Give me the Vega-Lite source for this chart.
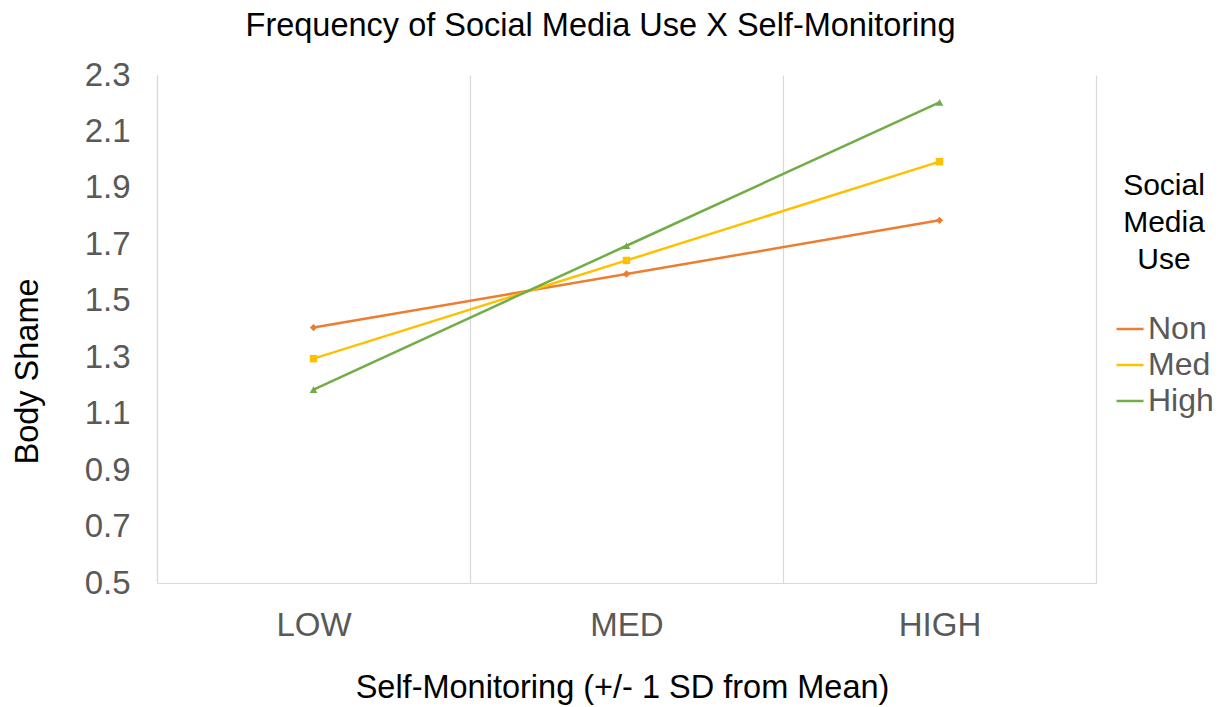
{
  "$schema": "https://vega.github.io/schema/vega-lite/v6.json",
  "width": 939,
  "height": 508,
  "autosize": {"type": "none"},
  "padding": {"left": 157, "top": 75, "right": 134, "bottom": 124},
  "background": "white",
  "title": {
    "text": "Frequency of Social Media Use X Self-Monitoring",
    "font": "Liberation Sans",
    "fontSize": 32.5,
    "fontWeight": "normal",
    "color": "#000000",
    "anchor": "middle",
    "dx": -26,
    "offset": 17
  },
  "data": {
    "values": [
      {"sm": "LOW", "use": "Non", "shame": 1.405},
      {"sm": "MED", "use": "Non", "shame": 1.595},
      {"sm": "HIGH", "use": "Non", "shame": 1.785},
      {"sm": "LOW", "use": "Med", "shame": 1.295},
      {"sm": "MED", "use": "Med", "shame": 1.643},
      {"sm": "HIGH", "use": "Med", "shame": 1.993},
      {"sm": "LOW", "use": "High", "shame": 1.185},
      {"sm": "MED", "use": "High", "shame": 1.695},
      {"sm": "HIGH", "use": "High", "shame": 2.203}
    ]
  },
  "encoding": {
    "x": {
      "field": "sm",
      "type": "nominal",
      "sort": ["LOW", "MED", "HIGH"],
      "scale": {"type": "band", "paddingInner": 0, "paddingOuter": 0},
      "axis": {
        "title": "Self-Monitoring (+/- 1 SD from Mean)",
        "labelAngle": 0,
        "tickBand": "extent",
        "grid": true,
        "gridColor": "#D9D9D9",
        "gridWidth": 1.2,
        "ticks": false,
        "domain": true,
        "domainColor": "#D9D9D9",
        "domainWidth": 1.2,
        "labelFont": "Liberation Sans",
        "labelFontSize": 33,
        "labelColor": "#595959",
        "labelPadding": 26,
        "titleFont": "Liberation Sans",
        "titleFontSize": 32.5,
        "titleFontWeight": "normal",
        "titleColor": "#000000",
        "titleY": 104,
        "titleBaseline": "middle",
        "titleX": 465
      }
    },
    "y": {
      "field": "shame",
      "type": "quantitative",
      "scale": {"domain": [0.5, 2.3], "nice": false, "zero": false},
      "axis": {
        "title": "Body Shame",
        "values": [0.5, 0.7, 0.9, 1.1, 1.3, 1.5, 1.7, 1.9, 2.1, 2.3],
        "format": ".1f",
        "grid": false,
        "ticks": false,
        "domain": true,
        "domainColor": "#D9D9D9",
        "domainWidth": 1.2,
        "labelFont": "Liberation Sans",
        "labelFontSize": 33,
        "labelColor": "#595959",
        "labelPadding": 27,
        "titleFont": "Liberation Sans",
        "titleFontSize": 32.5,
        "titleFontWeight": "normal",
        "titleColor": "#000000",
        "titleX": -130,
        "titleY": 296,
        "titleBaseline": "middle"
      }
    },
    "color": {
      "field": "use",
      "type": "nominal",
      "sort": ["Non", "Med", "High"],
      "scale": {"domain": ["Non", "Med", "High"], "range": ["#ED7D31", "#FFC000", "#70AD47"]},
      "legend": null
    }
  },
  "layer": [
    {
      "mark": {"type": "line", "strokeWidth": 2.5},
      "encoding": {
        "color": {
          "field": "use",
          "type": "nominal",
          "sort": ["Non", "Med", "High"],
          "scale": {"domain": ["Non", "Med", "High"], "range": ["#ED7D31", "#FFC000", "#70AD47"]},
          "legend": {
            "title": ["Social", "Media", "Use"],
            "orient": "none",
            "legendX": 957,
            "legendY": 96,
            "titleFont": "Liberation Sans",
            "titleFontSize": 30,
            "titleFontWeight": "normal",
            "titleColor": "#000000",
            "titleAlign": "center",
            "titleAnchor": "middle",
            "titleLineHeight": 37,
            "titlePadding": 38,
            "labelFont": "Liberation Sans",
            "labelFontSize": 32,
            "labelColor": "#595959",
            "labelOffset": 2,
            "symbolType": "stroke",
            "symbolStrokeWidth": 2.5,
            "symbolSize": 729,
            "rowPadding": 4
          }
        }
      }
    },
    {
      "transform": [{"filter": "datum.use === 'Non'"}],
      "mark": {"type": "point", "filled": true, "size": 55, "opacity": 1, "shape": "diamond"}
    },
    {
      "transform": [{"filter": "datum.use === 'Med'"}],
      "mark": {"type": "point", "filled": true, "size": 55, "opacity": 1, "shape": "square"}
    },
    {
      "transform": [{"filter": "datum.use === 'High'"}],
      "mark": {"type": "point", "filled": true, "size": 60, "opacity": 1, "shape": "triangle-up"}
    }
  ],
  "config": {
    "view": {"stroke": null}
  }
}
